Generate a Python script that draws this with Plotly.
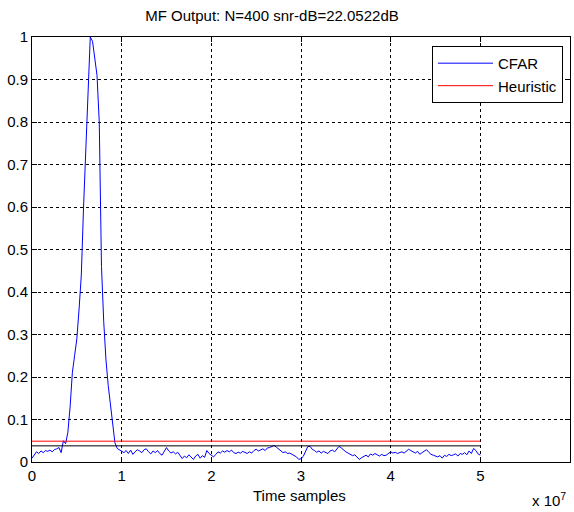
import numpy as np
import plotly.graph_objects as go

# MF output (normalised), sampled every 0.025e7 time samples from 0 to 5e7
mf_head = [0.009, 0.018, 0.024, 0.020, 0.026, 0.022, 0.027, 0.025, 0.028, 0.024,
           0.029, 0.031, 0.034, 0.022, 0.050, 0.043, 0.070, 0.13, 0.21, 0.25,
           0.29, 0.36, 0.44, 0.60, 0.74, 0.88, 1.00, 0.99, 0.95, 0.91,
           0.80, 0.46, 0.33, 0.24, 0.18, 0.13, 0.085, 0.045, 0.032, 0.028]
mf_tail = [0.025, 0.022, 0.027, 0.020, 0.028, 0.018, 0.024, 0.029,
           0.026, 0.022, 0.029, 0.031, 0.024, 0.019, 0.026, 0.022,
           0.027, 0.020, 0.016, 0.024, 0.034, 0.026, 0.021, 0.024,
           0.019, 0.023, 0.016, 0.008, 0.014, 0.010, 0.017, 0.011,
           0.006, 0.014, 0.018, 0.009, 0.015, 0.011, 0.027, 0.020,
           0.017, 0.012, 0.018, 0.024, 0.021, 0.026, 0.023, 0.027,
           0.024, 0.028, 0.022, 0.020, 0.023, 0.021, 0.025, 0.022,
           0.020, 0.024, 0.021, 0.027, 0.030, 0.026, 0.029, 0.031,
           0.027, 0.033, 0.034, 0.036, 0.039, 0.035, 0.031, 0.025,
           0.022, 0.024, 0.020, 0.021, 0.018, 0.016, 0.012, 0.006,
           0.008, 0.013, 0.024, 0.036, 0.037, 0.030, 0.027, 0.023,
           0.026, 0.021, 0.025, 0.023, 0.020, 0.026, 0.028, 0.024,
           0.030, 0.037, 0.033, 0.028, 0.024, 0.021, 0.018, 0.015,
           0.017, 0.012, 0.006, 0.010, 0.013, 0.016, 0.012, 0.019,
           0.016, 0.020, 0.017, 0.014, 0.018, 0.015, 0.016, 0.020,
           0.024, 0.021, 0.023, 0.020, 0.022, 0.024, 0.021, 0.026,
           0.030, 0.027, 0.023, 0.021, 0.025, 0.018, 0.022, 0.026,
           0.029, 0.023, 0.018, 0.016, 0.014, 0.012, 0.015, 0.009,
           0.016, 0.013, 0.018, 0.015, 0.017, 0.019, 0.014, 0.020,
           0.018, 0.022, 0.017, 0.026, 0.020, 0.032, 0.027, 0.019,
           0.016]
mf_output = mf_head + mf_tail
time_samples = np.linspace(0, 5e7, len(mf_output))

cfar_level = 0.038
heuristic_level = 0.049
x_end = 5e7

x_tickvals = [0, 1e7, 2e7, 3e7, 4e7, 5e7, 6e7]
x_ticktext = ["0", "1", "2", "3", "4", "5", "6"]
y_tickvals = [0, 0.1, 0.2, 0.3, 0.4, 0.5, 0.6, 0.7, 0.8, 0.9, 1]
y_ticktext = ["0", "0.1", "0.2", "0.3", "0.4", "0.5", "0.6", "0.7", "0.8", "0.9", "1"]

FONT = "Liberation Sans, Arial, sans-serif"
FS = 15

fig = go.Figure()
fig.add_trace(go.Scatter(x=time_samples, y=mf_output, mode="lines",
                         line=dict(color="#0000ff", width=1), name="CFAR"))
fig.add_trace(go.Scatter(x=[0, x_end], y=[heuristic_level, heuristic_level], mode="lines",
                         line=dict(color="#ff0000", width=1), name="Heuristic"))
fig.add_trace(go.Scatter(x=[0, x_end], y=[cfar_level, cfar_level], mode="lines",
                         line=dict(color="#000000", width=1), showlegend=False))

axis_common = dict(showline=True, linecolor="black", linewidth=1, mirror="allticks",
                   ticks="inside", ticklen=5, tickcolor="black",
                   showgrid=True, gridcolor="black", gridwidth=1, griddash="3px,3px",
                   zeroline=False, tickfont=dict(family=FONT, size=FS, color="black"))

fig.update_xaxes(range=[0, 6e7], tickvals=x_tickvals, ticktext=x_ticktext, **axis_common)
fig.update_yaxes(range=[0, 1], tickvals=y_tickvals, ticktext=y_ticktext, **axis_common)

fig.update_layout(
    width=574, height=512,
    margin=dict(l=32, r=4, t=37, b=50),
    paper_bgcolor="white", plot_bgcolor="white",
    font=dict(family=FONT, size=FS, color="black"),
    title=dict(text="MF Output: N=400 snr-dB=22.0522dB", x=272/574, xref="container",
               xanchor="center", y=1 - 16/512, yref="container", yanchor="middle",
               font=dict(family=FONT, size=FS, color="black")),
    legend=dict(x=0.987, y=0.979, xanchor="right", yanchor="top",
                bgcolor="white", bordercolor="black", borderwidth=1,
                font=dict(family=FONT, size=FS, color="black"),
                itemwidth=55, tracegroupgap=0),
    showlegend=True,
    annotations=[
        dict(text="Time samples", xref="paper", yref="paper", x=0.497, y=-33/425,
             xanchor="center", yanchor="middle", showarrow=False,
             font=dict(family=FONT, size=FS, color="black")),
        dict(text="x 10<sup>7</sup>", xref="paper", yref="paper", x=0.996, y=-37/425,
             xanchor="right", yanchor="middle", showarrow=False,
             font=dict(family=FONT, size=FS, color="black")),
    ],
)

fig.write_html("out.html")
